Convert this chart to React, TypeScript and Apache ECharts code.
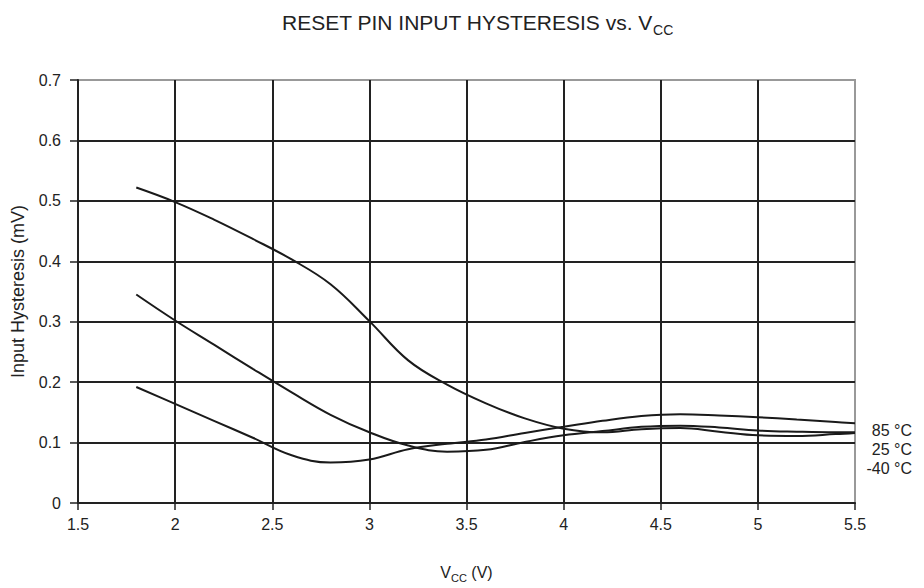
import React, { useEffect, useRef } from "react";
import * as echarts from "echarts";

const vcc = [1.8, 2.0, 2.2, 2.4, 2.6, 2.8, 3.0, 3.2, 3.4, 3.6, 3.8, 4.0, 4.2, 4.4, 4.6, 4.8, 5.0, 5.2, 5.4, 5.5];
const hystM40 = [0.522, 0.498, 0.469, 0.437, 0.403, 0.362, 0.301, 0.236, 0.196, 0.165, 0.14, 0.123, 0.117, 0.122, 0.124, 0.118, 0.112, 0.111, 0.114, 0.116];
const hyst25 = [0.345, 0.302, 0.262, 0.222, 0.183, 0.146, 0.117, 0.095, 0.085, 0.088, 0.101, 0.112, 0.119, 0.126, 0.128, 0.125, 0.12, 0.118, 0.117, 0.117];
const hyst85 = [0.192, 0.164, 0.136, 0.108, 0.079, 0.067, 0.072, 0.089, 0.098, 0.105, 0.116, 0.126, 0.136, 0.144, 0.147, 0.145, 0.142, 0.138, 0.134, 0.132];
const seriesNames = ["-40 °C", "25 °C", "85 °C"];
const endLabels = ["85 °C", "25 °C", "-40 °C"];
const xTickMin = 1.5;
const xTickMax = 5.5;
const xTickStep = 0.5;
const yTickMin = 0;
const yTickMax = 0.7;
const yTickStep = 0.1;

const FONT = "Liberation Sans, Arial, Helvetica, sans-serif";

export default function App() {
  const ref = useRef<HTMLDivElement>(null);
  useEffect(() => {
    document.body.style.margin = "0";
    const chart = echarts.init(ref.current!, null, { renderer: "svg" });
    const mk = (ys: number[]) => vcc.map((x, i) => [x, ys[i]]);
    const lineStyle = { color: "#1a1a1a", width: 2 };
    const all = [hystM40, hyst25, hyst85];
    chart.setOption({
      animation: false,
      backgroundColor: "#fff",
      textStyle: { fontFamily: FONT },
      title: {
        text: "RESET PIN INPUT HYSTERESIS vs. V{sub|CC}",
        left: 282,
        top: 8,
        padding: 0,
        textStyle: {
          fontFamily: FONT,
          fontSize: 21,
          fontWeight: "normal",
          color: "#222",
          lineHeight: 29,
          rich: { sub: { fontFamily: FONT, fontSize: 14, color: "#222", verticalAlign: "bottom", lineHeight: 14 } },
        },
      },
      grid: { left: 78, right: 69, top: 80, bottom: 81, show: true, borderColor: "#999", borderWidth: 2 },
      xAxis: {
        type: "value",
        min: xTickMin,
        max: xTickMax,
        interval: xTickStep,
        name: "V{sub|CC} (V)",
        nameLocation: "middle",
        nameGap: 58,
        nameTextStyle: {
          fontFamily: FONT,
          fontSize: 16,
          color: "#222",
          lineHeight: 22,
          rich: { sub: { fontFamily: FONT, fontSize: 11, color: "#222", verticalAlign: "bottom", lineHeight: 12 } },
        },
        axisLine: { lineStyle: { color: "#222", width: 2 } },
        axisTick: { show: true, inside: false, length: 7, lineStyle: { color: "#222", width: 1.5 } },
        axisLabel: { fontFamily: FONT, fontSize: 16, color: "#222", margin: 13 },
        splitLine: { show: true, showMaxLine: false, lineStyle: { color: "#222", width: 2 } },
      },
      yAxis: {
        type: "value",
        min: yTickMin,
        max: yTickMax,
        interval: yTickStep,
        name: "Input Hysteresis (mV)",
        nameLocation: "middle",
        nameGap: 51,
        nameTextStyle: { fontFamily: FONT, fontSize: 18, color: "#222" },
        axisLine: { show: true, lineStyle: { color: "#222", width: 2 } },
        axisTick: { show: true, inside: false, length: 8, lineStyle: { color: "#222", width: 1.5 } },
        axisLabel: { fontFamily: FONT, fontSize: 16, color: "#222", margin: 17 },
        splitLine: { show: true, showMaxLine: false, lineStyle: { color: "#222", width: 2 } },
      },
      series: all.map((ys, i) => ({
        name: seriesNames[i],
        type: "line",
        data: mk(ys),
        smooth: 0.4,
        showSymbol: false,
        symbol: "none",
        lineStyle,
        z: 5,
      })),
      graphic: endLabels.map((t, i) => ({
        type: "text",
        right: 12,
        top: 422 + i * 19,
        style: { text: t, font: `16px ${FONT}`, fill: "#222", textAlign: "right" },
      })),
    });
    return () => chart.dispose();
  }, []);
  return <div ref={ref} style={{ width: 924, height: 588 }} />;
}
